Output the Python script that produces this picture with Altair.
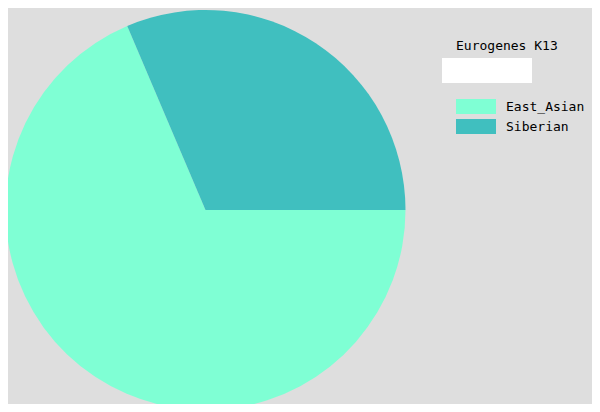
import math
import altair as alt
import pandas as pd

categories = ["East_Asian", "Siberian"]
values = [68.6, 31.4]
colors = ["#7fffd4", "#40bfbf"]
legend_title = "Eurogenes K13"

df = pd.DataFrame({"component": categories, "value": values})

FONT = "DejaVu Sans Mono"

pie = alt.Chart(df).mark_arc(outerRadius=200).encode(
    theta=alt.Theta("value:Q", stack=True,
                    scale=alt.Scale(range=[math.pi / 2, math.pi / 2 + 2 * math.pi])),
    color=alt.Color(
        "component:N",
        scale=alt.Scale(domain=categories, range=colors),
        legend=alt.Legend(
            title=legend_title,
            orient="none",
            legendX=448,
            legendY=32,
            padding=0,
            symbolType="M-1,-1L4.3333,-1L4.3333,1L-1,1Z",
            symbolSize=225,
            symbolStrokeWidth=0,
            symbolOpacity=1,
            labelOffset=35,
            rowPadding=5,
            titlePadding=46,
            titleFont=FONT,
            titleFontSize=13,
            titleFontWeight="normal",
            titleColor="#000000",
            labelFont=FONT,
            labelFontSize=13,
            labelColor="#000000",
        ),
    ),
    order=alt.Order("component:N"),
    x=alt.value(197.5),
    y=alt.value(202),
)

box = alt.Chart(pd.DataFrame({"a": [0]})).mark_rect(color="#ffffff").encode(
    x=alt.value(434), x2=alt.value(524), y=alt.value(50), y2=alt.value(75)
)

chart = alt.layer(pie, box).properties(
    width=584, height=396, padding=0, autosize=alt.AutoSizeParams(type="none"),
    background="#dedede",
).configure_view(stroke=None)

chart.save("out.html", embed_options={"renderer": "svg", "actions": False})
